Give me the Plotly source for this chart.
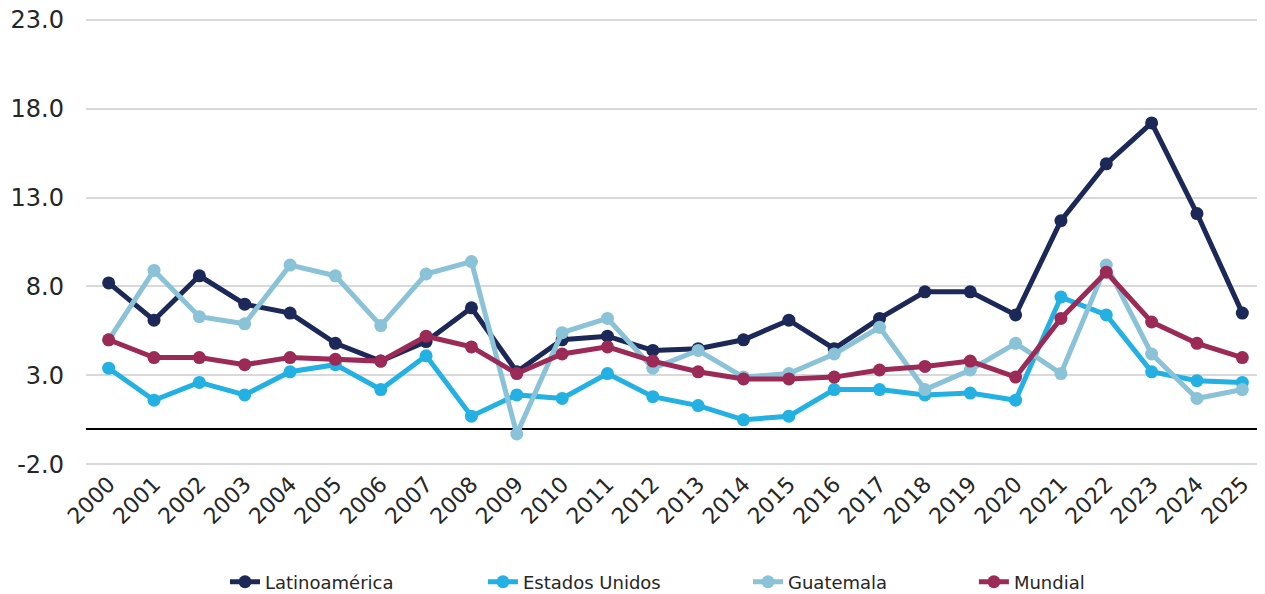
#!/usr/bin/env python3
"""
Inflation-style comparison chart: Latinoamérica, Estados Unidos, Guatemala, Mundial
"""

import plotly.graph_objects as go

# Data
years = [str(y) for y in range(2000, 2026)]

latinoamerica = [8.2, 6.1, 8.6, 7.0, 6.5, 4.8, 3.8, 4.9, 6.8, 3.2, 5.0, 5.2, 4.4, 4.5, 5.0, 6.1,
                 4.5, 6.2, 7.7, 7.7, 6.4, 11.7, 14.9, 17.2, 12.1, 6.5]
estados_unidos = [3.4, 1.6, 2.6, 1.9, 3.2, 3.6, 2.2, 4.1, 0.7, 1.9, 1.7, 3.1, 1.8, 1.3, 0.5, 0.7,
                  2.2, 2.2, 1.9, 2.0, 1.6, 7.4, 6.4, 3.2, 2.7, 2.6]
guatemala = [5.0, 8.9, 6.3, 5.9, 9.2, 8.6, 5.8, 8.7, 9.4, -0.3, 5.4, 6.2, 3.4, 4.4, 2.9, 3.1,
             4.2, 5.7, 2.2, 3.3, 4.8, 3.1, 9.2, 4.2, 1.7, 2.2]
mundial = [5.0, 4.0, 4.0, 3.6, 4.0, 3.9, 3.8, 5.2, 4.6, 3.1, 4.2, 4.6, 3.8, 3.2, 2.8, 2.8,
           2.9, 3.3, 3.5, 3.8, 2.9, 6.2, 8.8, 6.0, 4.8, 4.0]

series_names = ["Latinoamérica", "Estados Unidos", "Guatemala", "Mundial"]
series_values = [latinoamerica, estados_unidos, guatemala, mundial]
series_colors = ["#1B2858", "#22B1E2", "#8AC2D8", "#9C2A56"]

y_ticks = [-2, 3, 8, 13, 18, 23]

# one legend per series so the uneven spacing of the original can be kept
legend_ids = ["legend", "legend2", "legend3", "legend4"]
legend_x = [0.1179, 0.3367, 0.5615, 0.7531]

fig = go.Figure()

for name, values, color, leg in zip(series_names, series_values, series_colors, legend_ids):
    fig.add_trace(go.Scatter(
        x=years,
        y=values,
        name=name,
        mode="lines+markers",
        line=dict(color=color, width=5),
        marker=dict(color=color, size=13),
        legend=leg,
    ))

legend_style = dict(
    orientation="h",
    xanchor="left",
    y=-0.259,
    yanchor="middle",
    font=dict(size=18, color="#262626"),
    bgcolor="rgba(0,0,0,0)",
)

# the page body adds an 8px offset, so margins are set to compensate
fig.update_layout(
    width=1265,
    height=594,
    margin=dict(l=78, r=8, t=10, b=136, autoexpand=False),
    plot_bgcolor="white",
    paper_bgcolor="white",
    font=dict(family="DejaVu Sans", color="#262626"),
    showlegend=True,
    **{leg: dict(x=lx, **legend_style) for leg, lx in zip(legend_ids, legend_x)},
)

fig.update_xaxes(
    type="category",
    range=[-0.5, 25.5],
    tickangle=-45,
    tickfont=dict(size=22),
    showgrid=False,
    showline=False,
    ticks="",
)

fig.update_yaxes(
    range=[-2.1, 23.1],
    tickvals=y_ticks,
    ticktext=[f"{v:.1f}" for v in y_ticks],
    tickfont=dict(size=24),
    ticklabelstandoff=21,
    ticklabeloverflow="allow",
    showgrid=True,
    gridcolor="#D9D9D9",
    gridwidth=2,
    zeroline=True,
    zerolinecolor="#000000",
    zerolinewidth=1.5,
    showline=False,
)

fig.write_html("out.html")
